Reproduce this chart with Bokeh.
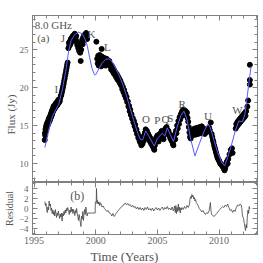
from bokeh.plotting import figure
from bokeh.models import Range1d, SingleIntervalTicker, LinearAxis, Title
from bokeh.layouts import column
from bokeh.embed import file_html
from bokeh.resources import INLINE
from bokeh.core.properties import value

# ---------------- data ----------------
obs_year = [
    1995.86, 1995.88, 1995.90, 1995.92, 1995.95, 1995.97, 1996.00, 1996.02, 1996.05, 1996.08,
    1996.10, 1996.13, 1996.16, 1996.19, 1996.22, 1996.25, 1996.28, 1996.31, 1996.34, 1996.37,
    1996.40, 1996.43, 1996.46, 1996.49, 1996.52, 1996.55, 1996.58, 1996.61, 1996.64, 1996.67,
    1996.70, 1996.73, 1996.76, 1996.79, 1996.82, 1996.85, 1996.88, 1996.91, 1996.94, 1996.97,
    1997.00, 1997.04, 1997.08, 1997.12, 1997.16, 1997.20, 1997.24, 1997.28, 1997.32, 1997.36,
    1997.40, 1997.44, 1997.48, 1997.52, 1997.56, 1997.60, 1997.64, 1997.68, 1997.72,
    1997.78, 1997.82, 1997.86, 1997.90, 1997.94, 1997.98, 1998.02, 1998.06, 1998.10, 1998.14,
    1998.18, 1998.22, 1998.26, 1998.30, 1998.34, 1998.38, 1998.42, 1998.46, 1998.50, 1998.54,
    1998.58, 1998.62, 1998.66, 1998.70, 1998.74, 1998.78, 1998.82, 1998.86, 1998.90, 1998.94,
    1998.98, 1999.02, 1999.06, 1999.10, 1999.14, 1999.18, 1999.22, 1999.26, 1999.30,
    2000.05, 2000.48,
    2000.12, 2000.16, 2000.20, 2000.24, 2000.28, 2000.32, 2000.36, 2000.40, 2000.44, 2000.48,
    2000.52, 2000.56, 2000.60, 2000.64, 2000.68, 2000.72, 2000.76, 2000.80, 2000.84, 2000.88,
    2000.92, 2000.96, 2001.00, 2001.05, 2001.10, 2001.15,
    2001.20, 2001.25, 2001.30, 2001.35, 2001.40, 2001.45, 2001.50, 2001.55, 2001.60, 2001.65,
    2001.70, 2001.75, 2001.80, 2001.85, 2001.90, 2001.95, 2002.00, 2002.05, 2002.10, 2002.15,
    2002.20, 2002.25, 2002.30, 2002.35, 2002.40, 2002.45, 2002.50, 2002.55, 2002.60, 2002.65,
    2002.70, 2002.75, 2002.80, 2002.85, 2002.90, 2002.95, 2003.00, 2003.05, 2003.10, 2003.15,
    2003.20, 2003.25, 2003.30, 2003.35, 2003.40, 2003.45, 2003.50, 2003.55,
    2003.60, 2003.65, 2003.70, 2003.75, 2003.80, 2003.85, 2003.90, 2003.95, 2004.00, 2004.05,
    2004.10, 2004.15, 2004.20, 2004.25, 2004.30, 2004.35, 2004.40, 2004.45, 2004.50, 2004.55,
    2004.60, 2004.65, 2004.70, 2004.75, 2004.80, 2004.85, 2004.90, 2004.95, 2005.00, 2005.05,
    2005.10, 2005.15, 2005.20, 2005.25, 2005.30, 2005.35, 2005.40, 2005.45, 2005.50, 2005.55,
    2005.60, 2005.65, 2005.70, 2005.75, 2005.80, 2005.85, 2005.90, 2005.95, 2006.00, 2006.05,
    2006.10, 2006.15, 2006.20, 2006.25, 2006.30, 2006.35,
    2006.40, 2006.45, 2006.50, 2006.55, 2006.60, 2006.65, 2006.70, 2006.75, 2006.80, 2006.85,
    2006.90, 2006.95, 2007.00, 2007.05, 2007.10, 2007.15, 2007.20, 2007.25, 2007.30, 2007.35,
    2007.40, 2007.45, 2007.50, 2007.55, 2007.60, 2007.65, 2007.70,
    2007.75, 2007.80, 2007.85, 2007.90, 2007.95, 2008.00, 2008.05, 2008.10, 2008.15, 2008.20,
    2008.25, 2008.30, 2008.35, 2008.40, 2008.45, 2008.50, 2008.55, 2008.60, 2008.65, 2008.70,
    2008.75, 2008.80, 2008.85, 2008.90, 2008.95, 2009.00, 2009.05, 2009.10, 2009.15, 2009.20,
    2009.25, 2009.33,
    2009.40, 2009.45, 2009.50, 2009.55, 2009.60, 2009.65, 2009.70, 2009.75, 2009.80, 2009.85,
    2009.90, 2009.95, 2010.00, 2010.05, 2010.10, 2010.15, 2010.20, 2010.25, 2010.30, 2010.35,
    2010.40, 2010.45, 2010.50, 2010.55, 2010.60, 2010.65, 2010.70, 2010.75,
    2010.85, 2010.95, 2011.05, 2011.10,
    2011.35, 2011.40, 2011.45, 2011.50, 2011.55, 2011.60, 2011.65, 2011.70, 2011.75, 2011.80,
    2011.85, 2011.90, 2011.95, 2012.00, 2012.05, 2012.10, 2012.15, 2012.20, 2012.30,
    2012.36, 2012.50, 2012.50, 2012.50,
]
obs_flux = [
    13.1, 14.0, 13.7, 14.5, 14.2, 14.9, 14.4, 15.2, 14.8, 15.4,
    15.0, 15.6, 15.3, 15.9, 15.5, 16.1, 15.7, 16.3, 16.0, 16.6,
    16.2, 16.9, 16.5, 17.1, 16.8, 17.4, 17.0, 17.6, 17.2, 17.5,
    17.3, 17.8, 17.5, 18.0, 17.6, 17.9, 17.7, 18.2, 17.9, 18.4,
    18.0, 18.3, 18.2, 18.6, 18.9, 19.0, 19.3, 19.6, 19.9, 20.2,
    20.5, 20.9, 21.2, 21.6, 21.9, 22.3, 22.6, 23.0, 23.3,
    25.2, 25.9, 25.5, 26.1, 25.7, 26.4, 26.0, 26.6, 26.2, 26.8,
    26.4, 26.9, 26.6, 27.1, 26.7, 26.3, 26.8, 26.0, 25.6, 25.9,
    25.2, 25.6, 24.8, 25.3, 24.6, 23.5, 25.0, 25.8, 26.3, 25.7,
    26.6, 26.2, 26.9, 26.5, 27.0, 26.7, 27.2, 26.8, 26.4,
    26.05, 25.1,
    23.8, 23.2, 24.2, 22.9, 23.6, 24.3, 23.1, 23.9, 22.8, 24.1,
    23.4, 24.0, 23.0, 23.7, 23.9, 23.3, 23.8, 22.9, 23.5, 23.8,
    23.2, 23.6, 23.4, 23.1, 23.5, 22.9,
    22.8, 22.4, 22.9, 22.2, 22.6, 21.9, 22.3, 21.7, 22.0, 21.4,
    21.8, 21.1, 21.5, 20.9, 21.2, 20.6, 20.9, 20.3, 20.5, 19.8,
    20.1, 19.4, 19.7, 19.0, 19.2, 18.6, 18.8, 18.1, 18.2, 17.5,
    17.6, 16.9, 17.1, 16.4, 16.5, 15.9, 16.0, 15.4, 15.6, 14.9,
    15.1, 14.4, 14.5, 13.9, 14.0, 13.4, 13.6, 13.0,
    12.8, 13.4, 12.4, 13.1, 12.6, 13.5, 13.0, 13.8, 14.1, 14.5,
    14.0, 14.3, 13.6, 13.9, 13.2, 13.6, 12.9, 13.3, 12.6, 13.0,
    12.3, 12.8, 12.0, 11.8, 12.4, 12.9, 13.4, 13.0, 13.7, 13.3,
    12.9, 13.5, 13.9, 13.4, 14.0, 14.3, 13.8, 13.5, 13.2, 13.8,
    14.2, 14.6, 14.2, 14.8, 14.4, 14.0, 14.3, 13.7, 13.9, 13.3,
    13.6, 13.0, 13.2, 12.6, 12.4, 13.1,
    13.8, 13.2, 14.3, 14.0, 15.0, 14.6, 15.6, 15.2, 16.1, 15.8,
    16.5, 16.2, 16.9, 16.5, 17.1, 16.7, 17.0, 16.4, 16.9, 16.3,
    16.7, 16.0, 15.5, 14.8, 14.1, 13.5, 13.3,
    13.8, 14.2, 13.7, 14.4, 14.0, 14.6, 14.1, 13.8, 14.3, 14.7,
    14.2, 13.9, 14.4, 14.8, 14.3, 14.0, 14.5, 14.9, 14.4, 14.1,
    14.6, 14.2, 13.9, 14.4, 14.1, 14.5, 14.2, 14.6, 14.3, 14.7,
    14.4, 15.4,
    13.9, 13.5, 13.1, 12.8, 12.4, 12.1, 11.8, 11.5, 11.2, 10.9,
    10.7, 10.5, 10.4, 10.2, 10.0, 9.9, 9.8, 9.7, 9.6, 9.5,
    9.3, 9.1, 9.4, 9.7, 10.1, 10.3, 10.0, 10.6,
    11.2, 11.8, 12.0, 11.4,
    14.6, 15.2, 14.9, 15.5, 15.1, 15.7, 15.3, 15.9, 15.5, 16.1,
    15.7, 16.3, 15.9, 16.5, 16.1, 16.7, 16.3, 16.9, 17.5,
    18.3, 20.4, 21.0, 23.0,
]

model_year = [
    1995.87, 1996.2, 1996.5, 1997.0, 1997.3, 1997.6, 1997.8, 1998.0, 1998.3, 1998.6,
    1998.9, 1999.1, 1999.3, 1999.5, 1999.7, 1999.9, 2000.0, 2000.2, 2000.5, 2000.8,
    2001.05, 2001.3, 2001.6, 2001.9, 2002.2, 2002.5, 2002.8, 2003.1, 2003.4, 2003.6,
    2003.8, 2004.05, 2004.3, 2004.75, 2005.0, 2005.4, 2005.6, 2005.8, 2006.05, 2006.3,
    2006.6, 2006.9, 2007.15, 2007.4, 2007.7, 2008.05, 2008.4, 2008.8, 2009.1, 2009.3,
    2009.6, 2009.9, 2010.2, 2010.45, 2010.7, 2011.0, 2011.3, 2011.6, 2011.9, 2012.1,
    2012.3, 2012.5, 2012.6,
]
model_flux = [
    12.1, 14.5, 16.3, 17.8, 19.8, 22.5, 24.8, 26.2, 27.0, 27.3,
    27.1, 26.5, 25.6, 24.0, 22.5, 21.7, 21.7, 22.3, 23.2, 23.7,
    23.8, 23.5, 22.6, 21.6, 20.4, 18.9, 17.2, 15.6, 14.0, 13.2,
    13.1, 14.3, 13.6, 12.3, 13.3, 14.0, 13.6, 14.7, 13.8, 12.9,
    14.8, 16.3, 16.9, 15.8, 13.2, 11.0, 12.6, 14.3, 15.2, 14.7,
    13.0, 11.4, 10.2, 9.7, 10.8, 12.4, 14.2, 15.6, 15.5, 16.5,
    19.0, 21.6, 22.8,
]

res_year = [
    1995.87, 1995.92, 1995.97, 1996.02, 1996.07, 1996.12, 1996.17, 1996.22, 1996.27, 1996.32,
    1996.37, 1996.42, 1996.47, 1996.52, 1996.57, 1996.62, 1996.67, 1996.72, 1996.77, 1996.82,
    1996.87, 1996.92, 1996.97, 1997.02, 1997.07, 1997.12, 1997.17, 1997.22, 1997.27, 1997.32,
    1997.37, 1997.42, 1997.47, 1997.52, 1997.57, 1997.62, 1997.67, 1997.72, 1997.80, 1997.85,
    1997.90, 1997.95, 1998.00, 1998.05, 1998.10, 1998.15, 1998.20, 1998.25, 1998.30, 1998.35,
    1998.40, 1998.45, 1998.50, 1998.55, 1998.60, 1998.65, 1998.70, 1998.75, 1998.80, 1998.85,
    1998.90, 1998.95, 1999.00, 1999.05, 1999.10, 1999.15, 1999.20, 1999.25, 1999.30, 1999.35,
    1999.95, 1999.97, 2000.04, 2000.06, 2000.10, 2000.15, 2000.20, 2000.25, 2000.30, 2000.35,
    2000.40, 2000.45, 2000.50, 2000.60, 2000.70, 2000.80, 2000.90, 2001.00, 2001.10, 2001.20,
    2001.30, 2001.40, 2001.50, 2001.60, 2001.70, 2001.80, 2001.90, 2002.00, 2002.10, 2002.20,
    2002.30, 2002.40, 2002.50, 2002.60, 2002.70, 2002.80, 2002.90, 2003.00, 2003.10, 2003.20,
    2003.30, 2003.40, 2003.50, 2003.60, 2003.70, 2003.80, 2003.90, 2004.00, 2004.10, 2004.20,
    2004.30, 2004.40, 2004.50, 2004.60, 2004.70, 2004.80, 2004.90, 2005.00, 2005.10, 2005.20,
    2005.30, 2005.40, 2005.50, 2005.60, 2005.70, 2005.80, 2005.90, 2006.00, 2006.10, 2006.20,
    2006.30, 2006.40, 2006.45, 2006.50, 2006.55, 2006.60, 2006.65, 2006.70, 2006.75, 2006.80,
    2006.85, 2006.90, 2006.95, 2007.00, 2007.10, 2007.20, 2007.30, 2007.40, 2007.50, 2007.60,
    2007.65, 2007.70, 2007.75, 2007.80, 2007.85, 2007.90, 2007.95, 2008.00, 2008.05, 2008.10,
    2008.15, 2008.20, 2008.30, 2008.40, 2008.50, 2008.60, 2008.70, 2008.80, 2008.90, 2009.00,
    2009.10, 2009.20, 2009.30, 2009.35, 2009.40, 2009.50, 2009.60, 2009.70, 2009.80, 2009.90,
    2010.00, 2010.10, 2010.20, 2010.30, 2010.40, 2010.50, 2010.60, 2010.70, 2010.75, 2010.80,
    2010.90, 2011.00, 2011.10, 2011.20, 2011.30, 2011.40, 2011.50, 2011.60, 2011.70, 2011.80,
    2011.85, 2011.90, 2011.95, 2012.00, 2012.05, 2012.10, 2012.15, 2012.20, 2012.25, 2012.30,
    2012.35, 2012.40, 2012.45, 2012.50,
]
res_val = [
    1.4, 0.6, 1.0, -0.2, -0.8, 0.3, -0.3, 1.5, 0.5, 0.9,
    -0.4, 0.1, -1.0, -0.3, -1.2, -0.6, -1.5, -0.2, -1.0, -1.8,
    -0.9, -1.4, -0.5, -1.3, -2.0, -1.1, -1.7, -0.9, -2.5, -1.0,
    -1.5, -0.6, -1.2, -0.3, -0.9, 0.0, -0.5, 0.2, -0.4, -1.2,
    -0.3, -0.8, 0.3, -0.6, -0.1, -1.0, -0.2, -0.7, -1.4, -0.4,
    -0.9, 0.0, -1.1, -1.6, -2.4, -1.2, -2.0, -2.8, -3.6, -1.5,
    -2.1, -0.6, -2.4, -1.0, -0.2, -1.2, 0.3, -0.6, -1.5, -0.9,
    -0.9, 1.3, 1.3, 4.0, 1.0, 1.6, 0.9, 1.3, 0.6, 1.2,
    0.8, 0.9, 0.3, 0.5, 0.0, -0.3, -0.6, -0.4, -0.9, -1.0,
    -1.5, -1.0, -1.6, -1.2, -0.8, -0.5, -0.2, 0.1, 0.4, 0.5,
    0.9, 1.1, 0.7, 1.0, 0.6, 0.8, 0.3, 0.6, 0.2, 0.4,
    -0.1, 0.3, -0.2, 0.2, -0.3, 0.1, -0.4, 0.2, -0.2, 0.3,
    -0.3, 0.0, -0.4, 0.1, -0.5, -0.1, 0.2, -0.3, 0.1, -0.4,
    0.0, 0.3, -0.3, 0.2, -0.1, 0.4, -0.2, 0.1, -0.3, 0.3,
    -0.5, 0.5, -0.8, 0.6, -1.0, 0.2, -0.6, 0.9, -0.4, 0.3,
    -0.9, 0.1, -0.3, 0.2, -0.2, 0.4, 0.0, 0.6, 0.2, 0.8,
    2.0, 2.4, 2.0, 2.8, 2.3, 2.6, 1.9, 2.2, 1.5, 1.8,
    1.2, 1.0, 0.6, 0.0, -0.3, -0.7, -0.4, -0.9, -1.2, -0.8,
    -1.0, -0.4, 1.2, -0.5, -1.2, -1.4, -1.6, -1.3, -1.0, -0.7,
    -0.4, -0.1, 0.2, 0.4, 0.2, 0.7, 0.4, 0.9, 0.5, 0.2,
    -0.4, -0.2, -0.8, -0.3, -0.6, 0.2, 0.7, 0.5, 0.9, 0.7,
    0.1, -1.5, -1.7, -2.2, -3.0, -3.8, -4.4, -3.2, -3.9, -1.5,
    -0.3, -1.0, 0.4, -0.1,
]

comp_names = ["I", "J", "K", "L", "O", "P", "Q", "S", "R", "U", "W"]
comp_year = [1996.8, 1997.33, 1999.65, 2000.95, 2004.07, 2005.0, 2005.65, 2006.05, 2007.0, 2009.1, 2011.5]
comp_flux = [19.8, 26.6, 27.1, 25.3, 15.9, 15.7, 15.8, 16.05, 17.9, 16.2, 17.0]

# ---------------- style ----------------
FONT = "Liberation Serif"
AX = "#808080"
TXT = "#555555"

xr = Range1d(1994.87, 2013.12)


def style_axis(ax, interval, minor, labels):
    ax.ticker = SingleIntervalTicker(interval=interval, num_minor_ticks=minor)
    ax.axis_line_color = AX
    ax.major_tick_line_color = AX
    ax.minor_tick_line_color = AX
    ax.major_tick_in = 5
    ax.major_tick_out = 0
    ax.minor_tick_in = 3
    ax.minor_tick_out = 0
    ax.major_label_text_font = FONT
    if labels:
        ax.major_label_text_color = "#666666"
        ax.major_label_text_font_size = "9px"
        ax.major_label_standoff = 4
    else:
        ax.major_label_text_color = None
        ax.major_label_text_font_size = "0px"
        ax.major_label_standoff = 0
    ax.axis_label_text_font = FONT
    ax.axis_label_text_font_style = "normal"
    ax.axis_label_text_color = TXT
    ax.axis_label_standoff = 1


top = figure(width=260, height=182, x_range=xr, y_range=Range1d(7.5, 29.5),
             output_backend="svg", toolbar_location=None,
             min_border_left=27, min_border_right=3, min_border_top=15, min_border_bottom=0)
top.grid.visible = False
top.outline_line_color = AX
style_axis(top.xaxis[0], 5, 5, False)
style_axis(top.yaxis[0], 5, 5, True)
ax_t = LinearAxis()
style_axis(ax_t, 5, 5, False)
top.add_layout(ax_t, "above")
ax_r = LinearAxis()
style_axis(ax_r, 5, 5, False)
top.add_layout(ax_r, "right")
top.add_layout(Title(text="Flux (Jy)", align="left", offset=48, standoff=0,
                     text_font=FONT, text_font_size="11px", text_font_style="normal",
                     text_color=TXT), "left")

top.scatter(obs_year, obs_flux, size=5, color="black")
top.line(model_year, model_flux, color="#5a5aff", line_width=1)
top.text(x=comp_year, y=comp_flux, text=comp_names, text_font=value(FONT),
         text_font_size="11px", text_color=TXT, text_align="center", text_baseline="middle")
top.text(x=[1995.05], y=[28.2], text=["8.0 GHz"], text_font=value(FONT),
         text_font_size="11px", text_color=TXT, text_align="left", text_baseline="middle")
top.text(x=[1995.25], y=[26.5], text=["(a)"], text_font=value(FONT),
         text_font_size="11px", text_color=TXT, text_align="left", text_baseline="middle")

bot = figure(width=260, height=81, x_range=xr, y_range=Range1d(-5.2, 5.2),
             output_backend="svg", toolbar_location=None,
             min_border_left=27, min_border_right=3, min_border_top=0, min_border_bottom=0)
bot.grid.visible = False
bot.outline_line_color = AX
style_axis(bot.xaxis[0], 5, 5, True)
bot.xaxis[0].major_label_standoff = 2
bot.xaxis[0].major_label_text_font_size = "10px"
style_axis(bot.yaxis[0], 2, 2, True)
bot.yaxis[0].axis_label = "Residual"
bot.yaxis[0].axis_label_text_font_size = "10px"
bx_t = LinearAxis()
style_axis(bx_t, 5, 5, False)
bot.add_layout(bx_t, "above")
by_r = LinearAxis()
style_axis(by_r, 2, 2, False)
bot.add_layout(by_r, "right")
bot.add_layout(Title(text="Time (Years)", align="left", offset=58, standoff=0,
                     text_font=FONT, text_font_size="13px", text_font_style="normal",
                     text_color=TXT), "below")

bot.line(res_year, res_val, color="#444444", line_width=0.8)
bot.text(x=[1998.5], y=[2.5], text=["(b)"], text_font=value(FONT),
         text_font_size="12px", text_color=TXT, text_align="center", text_baseline="middle")

layout = column(top, bot, spacing=0)
open("out.html", "w").write(file_html(layout, INLINE))
